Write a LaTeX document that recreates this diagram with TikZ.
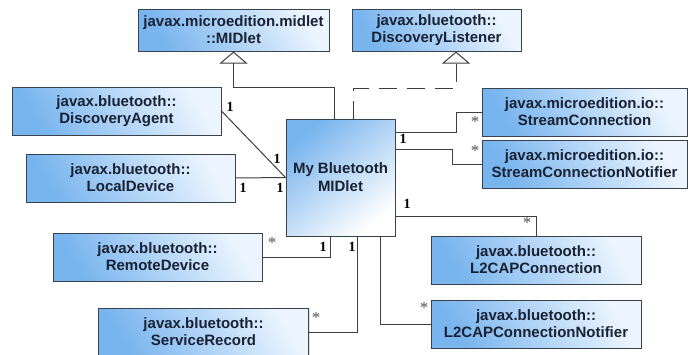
\documentclass[tikz,border=0pt]{standalone}
\usepackage{fontspec}
\setmainfont{Liberation Sans}
\newfontfamily\labelfont{Liberation Serif}
\usetikzlibrary{arrows.meta,shadows}

\definecolor{boxblue}{RGB}{120,180,238}
\definecolor{boxlight}{RGB}{236,245,255}
\definecolor{boxline}{RGB}{58,66,78}
\definecolor{textnavy}{RGB}{24,34,52}
\definecolor{wire}{RGB}{62,62,62}
\definecolor{stargray}{RGB}{85,85,85}

\begin{document}
\begin{tikzpicture}[x=1pt,y=-1pt,
  classbox/.style={draw=boxline, line width=1pt, shading=axis,
    bottom color=boxblue, top color=boxlight, shading angle=-60,
    inner sep=0pt, align=center, text=textnavy,
    font=\fontsize{15}{17}\selectfont\bfseries,
    minimum width=209, minimum height=48,
    drop shadow={opacity=0.25, shadow xshift=1.2pt, shadow yshift=-1.2pt}},
  mainbox/.style={classbox, bottom color=white, top color=boxblue,
    shading angle=40, minimum width=109, minimum height=117,
    font=\fontsize{15}{18}\selectfont\bfseries},
  assoc/.style={draw=wire, line width=1pt},
  genline/.style={assoc, -{Triangle[open, fill=white, length=12pt, width=28pt]}},
  realline/.style={assoc, dash pattern=on 18pt off 10pt,
    -{Triangle[open, fill=white, length=12pt, width=28pt]}},
  one/.style={inner sep=0pt, font=\labelfont\fontsize{14}{14}\selectfont\bfseries},
  many/.style={inner sep=0pt, text=stargray, text height=11pt, text depth=-3pt,
    font=\labelfont\fontsize{17}{17}\selectfont},
]
\useasboundingbox (0,0) rectangle (688,354);

% classes
\node[classbox, minimum width=191, minimum height=42] (midlet) at (233.5,30)
  {javax.microedition.midlet\\::MIDlet};
\node[classbox, minimum width=169, minimum height=42] (dlist) at (436.5,30)
  {javax.bluetooth::\\DiscoveryListener};
\node[classbox] (dagent) at (116.5,111) {javax.bluetooth::\\DiscoveryAgent};
\node[classbox] (ldev) at (130.5,178) {javax.bluetooth::\\LocalDevice};
\node[classbox] (rdev) at (157.5,257) {javax.bluetooth::\\RemoteDevice};
\node[classbox, minimum width=210] (srec) at (203.5,332) {javax.bluetooth::\\ServiceRecord};
\node[classbox, minimum width=205] (sconn) at (584.5,112)
  {javax.microedition.io::\\StreamConnection};
\node[classbox, minimum width=205] (snot) at (584.5,164)
  {javax.microedition.io::\\StreamConnectionNotifier};
\node[classbox, minimum width=210] (l2c) at (536,260) {javax.bluetooth::\\L2CAPConnection};
\node[classbox, minimum width=210] (l2n) at (536,324) {javax.bluetooth::\\L2CAPConnectionNotifier};
\node[mainbox] (main) at (340.5,177.5) {My Bluetooth\\MIDlet};

% bend points
\coordinate (gbend) at (334,87);
\coordinate (rbend) at (456,88);
\coordinate (rbase) at (353,88);
\coordinate (rdx) at (330,0);
\coordinate (srx) at (357,0);
\coordinate (l2nx) at (380,0);
\coordinate (l2cy) at (0,216);
\coordinate (scb) at (456,132);
\coordinate (snb) at (452,149);

% inheritance and realization
\draw[genline] (main.north -| gbend) -- (gbend) -| (midlet.south);
\draw[realline] (main.north -| rbase) -- (rbase) -- (rbend) -- (dlist.south -| rbend);

% associations
\draw[assoc] (dagent.east) -- (main.west);
\draw[assoc] (ldev.east) -- (main.west);
\draw[assoc] (rdev.east) -| (main.south -| rdx);
\draw[assoc] (srec.east) -| (main.south -| srx);
\draw[assoc] (main.south -| l2nx) |- (l2n.west);
\draw[assoc] (main.east |- l2cy) -| (l2c.north);
\draw[assoc] (main.east |- scb) -- (scb) |- (sconn.west);
\draw[assoc] (main.east |- snb) -- (snb) |- (snot.west);

% multiplicities
\node[one] (m1) at (230,107) {1};
\node[one] (m2) at (277,159) {1};
\node[one] (m3) at (243,188) {1};
\node[one] (m4) at (280,188) {1};
\node[many] (m5) at (272,243) {*};
\node[one] (m6) at (323,247) {1};
\node[one] (m7) at (352,247) {1};
\node[many] (m8) at (316,318) {*};
\node[one] (m9) at (403,139) {1};
\node[many] (m10) at (475,122) {*};
\node[many] (m11) at (475,151) {*};
\node[one] (m12) at (407,204) {1};
\node[many] (m13) at (527,223) {*};
\node[many] (m14) at (424,308) {*};
\end{tikzpicture}
\end{document}
